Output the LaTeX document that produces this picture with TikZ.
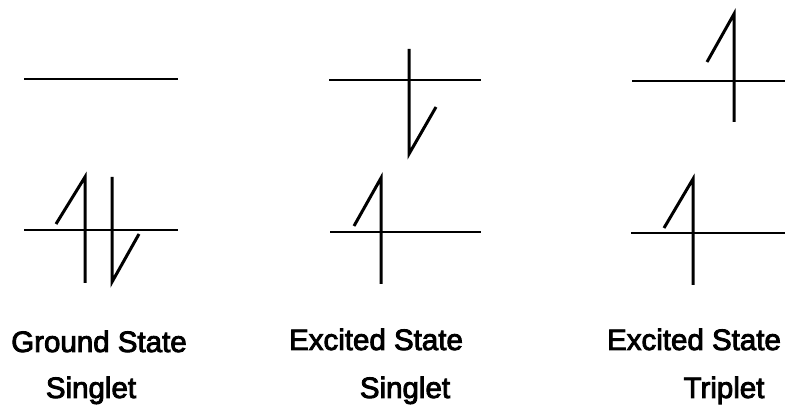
\documentclass[tikz,border=0pt]{standalone}
\usepackage{fontspec}
\setmainfont{Liberation Sans}
\newfontfamily\statefont{Liberation Sans}[FakeBold=3]
\usepackage{tikz}

\tikzset{
  level/.style={line width=2.7pt},
  spin/.style={line width=3pt, line join=miter},
  label/.style={anchor=base, inner sep=0pt, font=\statefont\fontsize{29.5}{32}\selectfont}
}

\begin{document}
\begin{tikzpicture}[x=1pt,y=-1pt]
\useasboundingbox (0,0) rectangle (788,406);

% ground state singlet
\draw[level] (24,79) -- (178,79);
\draw[level] (24,230) -- (178,230);
\draw[spin] (56,224) -- (85,177) -- (85,283);
\draw[spin] (112,177) -- (112,282) -- (139,234);

% excited state singlet
\draw[level] (329,80) -- (481,80);
\draw[level] (330,232) -- (481,232);
\draw[spin] (409,49) -- (409,154) -- (436,107);
\draw[spin] (354,226) -- (381,178) -- (381,284);

% excited state triplet
\draw[level] (632,81) -- (785,81);
\draw[level] (631,233) -- (785,233);
\draw[spin] (707,62) -- (734,14) -- (734,122);
\draw[spin] (664,228) -- (693,179) -- (693,285);

\node[label] (gs) at (99,352) {Ground State};
\node[label] (gsm) at (91,398) {Singlet};
\node[label] (es) at (376,350) {Excited State};
\node[label] (esm) at (405,398) {Singlet};
\node[label] (et) at (694,350) {Excited State};
\node[label] (etm) at (724,398) {Triplet};

\end{tikzpicture}
\end{document}
